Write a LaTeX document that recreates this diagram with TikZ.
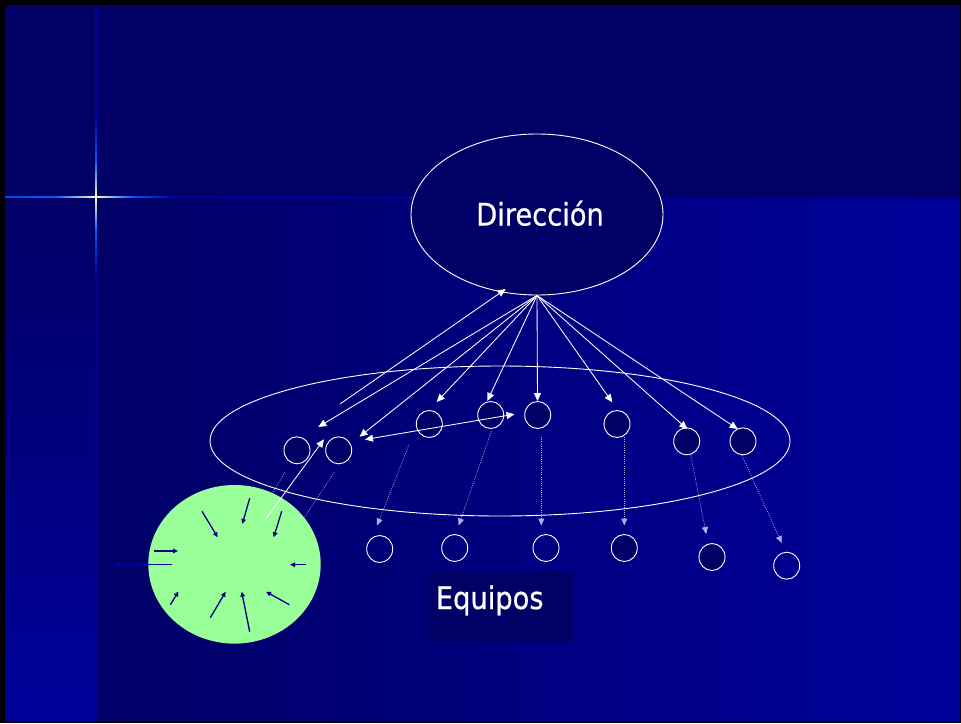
\documentclass[tikz,border=0pt]{standalone}
\usepackage{fontspec}
\newfontfamily\tah{DejaVu Sans}[FakeStretch=0.88,FakeBold=0.6]
\usetikzlibrary{arrows.meta,shapes.geometric}
\definecolor{bgdark}{RGB}{0,0,102}
\definecolor{bgbright}{RGB}{0,0,154}
\definecolor{glintblue}{RGB}{0,90,255}
\definecolor{glintwhite}{RGB}{255,255,200}
\definecolor{glintdim}{RGB}{0,0,150}
\definecolor{teamgreen}{RGB}{153,255,153}
\definecolor{inblue}{RGB}{0,0,128}
\definecolor{dotcol}{RGB}{175,175,230}
\begin{document}
\begin{tikzpicture}[x=1pt,y=-1pt,
  member/.style={ellipse,draw=white,line width=0.9pt,minimum width=26pt,minimum height=27pt,inner sep=0pt},
  memberfill/.style={member,fill=bgdark},
  warrow/.style={white,line width=0.85pt,-{Triangle[length=8pt,width=7pt]}},
  wdouble/.style={white,line width=0.85pt,{Triangle[length=8pt,width=7pt]}-{Triangle[length=8pt,width=7pt]}},
  dotline/.style={dotcol,line width=0.6pt,dash pattern=on 1pt off 1.2pt},
  dotarrow/.style={dotline,-{Triangle[length=7pt,width=6pt]}},
  inarrow/.style={inblue,line width=1.3pt,-{Triangle[length=5pt,width=4.5pt]}},
  outarrow/.style={draw=blue!45!bgdark,line width=1.3pt,-{Triangle[length=6pt,width=5pt]}},
  labeltext/.style={text=white,font=\tah\fontsize{31}{36}\selectfont,inner sep=0pt}
]
\useasboundingbox (0,0) rectangle (961,723);
% background
\fill[black] (0,0) rectangle (961,723);
\fill[bgdark] (5,5) rectangle (960,721);
\shade[left color=bgdark,right color=bgbright] (96,197) rectangle (960,721);
\shade[top color=bgdark,bottom color=bgbright] (5,197) rectangle (96,721);
% glint
\fill[glintdim] (95.4,5) rectangle (96.8,721);
\fill[glintdim] (5,196.4) rectangle (411,197.8);
\shade[left color=glintblue!80!bgdark,right color=glintblue] (5,196.3) rectangle (55,197.9);
\shade[left color=glintblue,right color=glintwhite] (55,196.3) rectangle (96,197.9);
\shade[left color=glintwhite,right color=glintblue] (96,196.3) rectangle (132,197.9);
\shade[left color=glintblue,right color=glintdim] (132,196.3) rectangle (175,197.9);
\shade[top color=glintdim,bottom color=glintblue] (95.3,115) rectangle (96.9,160);
\shade[top color=glintblue,bottom color=glintwhite] (95.3,160) rectangle (96.9,197);
\shade[top color=glintwhite,bottom color=glintblue] (95.3,197) rectangle (96.9,232);
\shade[top color=glintblue,bottom color=glintdim] (95.3,232) rectangle (96.9,275);
% direction
\node[ellipse,draw=white,line width=0.9pt,fill=bgdark,minimum width=252pt,minimum height=161pt,inner sep=0pt] (dir) at (537,214.5) {};
\node[labeltext,anchor=base] (dirlabel) at (540,225.5) {Dirección};
% team ellipse
\node[ellipse,draw=white,line width=0.9pt,minimum width=580pt,minimum height=150pt,inner sep=0pt] (team) at (500,441) {};
% upper members
\node[memberfill] (c1) at (297,450.3) {};
\node[memberfill] (c2) at (338.7,450.3) {};
\node[memberfill] (c3) at (429.3,424) {};
\node[memberfill] (c4) at (490.7,415) {};
\node[memberfill] (c5) at (537.7,415) {};
\node[memberfill] (c6) at (617,424) {};
\node[memberfill] (c7) at (686.7,441.3) {};
\node[memberfill] (c8) at (743,441.3) {};
% lower members
\node[member] (d1) at (379.7,549) {};
\node[member] (d2) at (454.7,548) {};
\node[member] (d3) at (546,548) {};
\node[memberfill] (d4) at (624.3,548) {};
\node[memberfill] (d5) at (712,557) {};
\node[member] (d6) at (786.7,565.7) {};
% arrow tips
\coordinate (ta) at (318.3,427);
\coordinate (tb) at (359.5,436.7);
\coordinate (tc) at (436.7,402);
\coordinate (td) at (487.3,401);
\coordinate (te) at (537.5,401);
\coordinate (tf) at (612.3,402.3);
\coordinate (tg) at (687.3,429);
\coordinate (th) at (737.7,429);
\coordinate (up0) at (340,404);
\coordinate (upt) at (505.7,289);
\coordinate (dbl1) at (365,439.5);
\coordinate (dbl2) at (514.5,414.2);
\draw[warrow] (dir.south) -- (ta);
\draw[warrow] (dir.south) -- (tb);
\draw[warrow] (dir.south) -- (tc);
\draw[warrow] (dir.south) -- (td);
\draw[warrow] (dir.south) -- (te);
\draw[warrow] (dir.south) -- (tf);
\draw[warrow] (dir.south) -- (tg);
\draw[warrow] (dir.south) -- (th);
\draw[warrow] (up0) -- (upt);
\draw[wdouble] (dbl1) -- (dbl2);
% dotted arrows down
\coordinate (p1s) at (409,445);   \coordinate (p1e) at (377,525.5);
\coordinate (p2s) at (491.5,431); \coordinate (p2e) at (458.7,525.5);
\coordinate (p3s) at (541.3,437); \coordinate (p3e) at (541.3,525.5);
\coordinate (p4s) at (624.3,437); \coordinate (p4e) at (624.3,525.5);
\coordinate (p5s) at (690.7,455); \coordinate (p5e) at (706.3,534);
\coordinate (p6s) at (741.7,455); \coordinate (p6e) at (781.7,543);
\draw[dotarrow] (p1s) -- (p1e);
\draw[dotarrow] (p2s) -- (p2e);
\draw[dotarrow] (p3s) -- (p3e);
\draw[dotarrow] (p4s) -- (p4e);
\draw[dotarrow] (p5s) -- (p5e);
\draw[dotarrow] (p6s) -- (p6e);
% dotted lines to the green group (ends hidden by the group)
\coordinate (q1s) at (285,472.3); \coordinate (q1e) at (262,510);
\coordinate (q2s) at (334.3,472.3); \coordinate (q2e) at (296,530);
\draw[dotline] (q1s) -- (q1e);
\draw[dotline] (q2s) -- (q2e);
% the group
\node[ellipse,fill=teamgreen,minimum width=172.4pt,minimum height=158.6pt,inner sep=0pt] (grp) at (234.5,564.3) {};
% inner arrows
\coordinate (i1s) at (202,511.3);   \coordinate (i1e) at (217.7,537.3);
\coordinate (i2s) at (249.7,498.3); \coordinate (i2e) at (242.3,524);
\coordinate (i3s) at (281.7,511.3); \coordinate (i3e) at (273.7,537.3);
\coordinate (i4s) at (154.3,551);   \coordinate (i4e) at (178,551);
\coordinate (i5s) at (305.7,564.7); \coordinate (i5e) at (290,564.7);
\coordinate (i6s) at (170.3,604.7); \coordinate (i6e) at (178.5,591.5);
\coordinate (i7s) at (210.3,617.7); \coordinate (i7e) at (225.7,591.7);
\coordinate (i8s) at (249.7,631.7); \coordinate (i8e) at (241.7,591.7);
\coordinate (i9s) at (289.3,604.7); \coordinate (i9e) at (266,591.7);
\foreach \k in {1,...,9} {\draw[inarrow] (i\k s) -- (i\k e);}
\coordinate (os) at (172,564.7); \coordinate (oe) at (114,564.7);
\draw[outarrow] (os) -- (oe);
% white arrow from the group to the team
\coordinate (gs) at (265.7,519);
\coordinate (gt) at (324,439.3);
\draw[warrow] (gs) -- (gt);
% equipos label
\node[fill=bgdark,minimum width=147.6pt,minimum height=70pt,inner sep=0pt] (eqbox) at (499.5,606.7) {};
\node[labeltext,anchor=base west] (eqlabel) at (435.7,609) {Equipos};
\end{tikzpicture}
\end{document}
